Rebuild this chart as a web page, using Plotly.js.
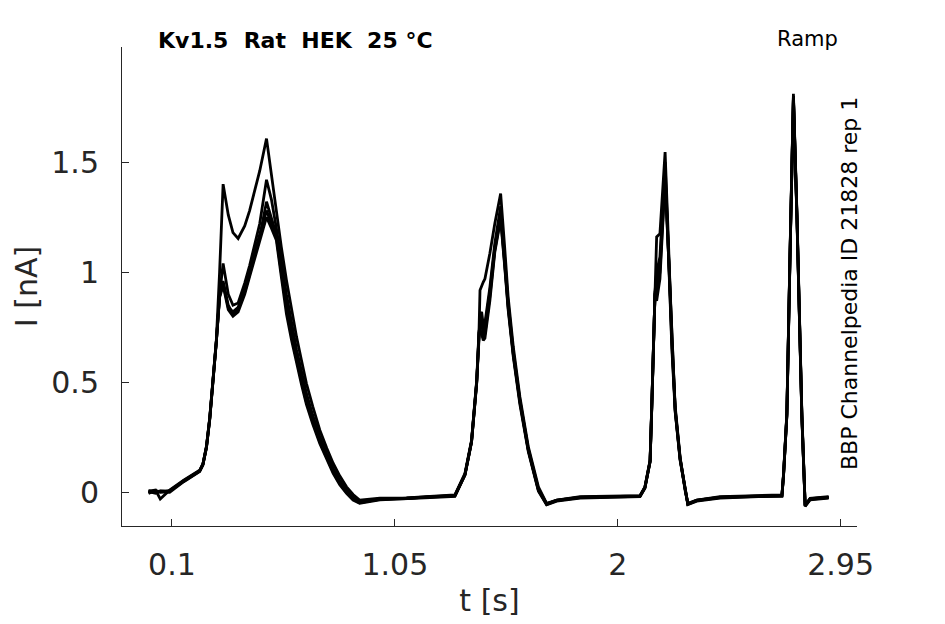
<!DOCTYPE html>
<html>
<head>
<meta charset="utf-8">
<script src="https://cdn.plot.ly/plotly-3.0.1.min.js"></script>
<style>html,body{margin:0;padding:0;background:#fff;}#plot{width:945px;height:624px;}</style>
</head>
<body>
<div id="plot"></div>
<script>
// time points [s]
var t = [0.000,0.030,0.050,0.090,0.150,0.200,0.218,0.232,0.247,0.261,
         0.275,0.289,0.303,0.318,0.340,0.360,0.382,0.410,0.431,0.455,
         0.474,0.503,0.524,0.545,0.566,0.588,0.610,0.631,0.652,0.673,
         0.700,0.730,0.760,0.787,0.815,0.844,0.872,0.900,0.986,1.100,
         1.200,
         1.306,1.349,1.377,1.399,1.409,1.413,1.420,1.427,1.434,1.455,
         1.476,1.501,1.518,1.533,1.555,1.583,1.619,1.662,1.697,1.740,
         1.840,1.950,
         2.095,2.116,2.138,2.145,2.152,2.159,2.166,2.180,2.202,2.216,
         2.231,2.245,2.266,2.288,2.299,2.337,2.436,2.600,
         2.700,2.707,2.721,2.735,2.749,2.764,2.785,2.799,2.820,2.899];

// current sweeps [nA]
var sweep1 = [0.005,0.010,-0.030,0.010,0.055,0.090,0.100,0.130,0.210,0.340,
              0.500,0.690,1.000,1.400,1.260,1.180,1.153,1.210,1.280,1.380,
              1.460,1.607,1.437,1.266,1.115,0.964,0.830,0.706,0.600,0.495,
              0.390,0.283,0.200,0.132,0.075,0.025,-0.010,-0.035,-0.027,-0.025,
              -0.018,
              -0.012,0.086,0.237,0.510,0.740,0.918,0.940,0.955,0.970,1.085,
              1.220,1.357,1.115,0.888,0.660,0.434,0.207,0.025,-0.050,-0.035,
              -0.020,-0.018,
              -0.015,0.025,0.147,0.390,0.690,0.918,1.160,1.175,1.546,1.145,
              0.690,0.390,0.160,0.010,-0.050,-0.035,-0.020,-0.015,
              -0.012,0.086,0.360,1.115,1.810,1.270,0.360,-0.058,-0.027,-0.020];
var sweep2 = [0.000,0.005,0.000,0.008,0.052,0.088,0.098,0.128,0.207,0.336,
              0.496,0.686,0.895,1.040,0.900,0.850,0.860,0.950,1.030,1.130,
              1.220,1.420,1.330,1.200,1.050,0.900,0.770,0.650,0.550,0.450,
              0.350,0.255,0.175,0.110,0.055,0.010,-0.020,-0.040,-0.030,-0.027,
              -0.020,
              -0.015,0.082,0.232,0.505,0.735,0.800,0.820,0.760,0.770,0.930,
              1.130,1.300,1.070,0.860,0.640,0.420,0.197,0.015,-0.052,-0.037,
              -0.022,-0.020,
              -0.017,0.022,0.142,0.385,0.685,0.910,1.000,1.070,1.500,1.120,
              0.670,0.380,0.155,0.005,-0.052,-0.037,-0.022,-0.017,
              -0.014,0.082,0.355,1.110,1.800,1.260,0.350,-0.060,-0.030,-0.022];
var sweep3 = [0.008,0.000,0.005,0.005,0.050,0.085,0.096,0.126,0.205,0.333,
              0.493,0.683,0.890,0.960,0.850,0.810,0.830,0.910,0.990,1.080,
              1.160,1.320,1.250,1.170,1.020,0.860,0.730,0.620,0.520,0.425,
              0.330,0.240,0.165,0.100,0.045,0.003,-0.028,-0.045,-0.032,-0.028,
              -0.022,
              -0.016,0.080,0.230,0.500,0.730,0.760,0.780,0.700,0.720,0.890,
              1.100,1.250,1.040,0.840,0.625,0.410,0.190,0.010,-0.055,-0.038,
              -0.024,-0.021,
              -0.018,0.020,0.140,0.380,0.680,0.905,0.900,1.000,1.440,1.100,
              0.660,0.370,0.150,0.000,-0.054,-0.038,-0.024,-0.018,
              -0.016,0.080,0.350,1.100,1.790,1.250,0.345,-0.062,-0.032,-0.024];
var sweep4 = [-0.005,0.008,0.002,0.000,0.048,0.083,0.094,0.124,0.202,0.330,
              0.490,0.680,0.885,0.940,0.830,0.800,0.820,0.900,0.980,1.070,
              1.140,1.250,1.200,1.145,0.980,0.810,0.690,0.585,0.490,0.400,
              0.310,0.222,0.150,0.086,0.035,-0.005,-0.035,-0.050,-0.034,-0.030,
              -0.024,
              -0.018,0.078,0.228,0.495,0.725,0.740,0.720,0.690,0.700,0.870,
              1.090,1.240,1.030,0.830,0.615,0.400,0.185,0.005,-0.057,-0.040,
              -0.026,-0.023,
              -0.020,0.018,0.138,0.375,0.675,0.900,0.870,0.970,1.420,1.090,
              0.650,0.365,0.145,-0.003,-0.056,-0.040,-0.026,-0.020,
              -0.018,0.078,0.345,1.095,1.790,1.245,0.340,-0.064,-0.034,-0.026];
var sweep5 = [0.003,-0.004,0.006,0.004,0.053,0.087,0.097,0.127,0.206,0.335,
              0.495,0.685,0.892,0.950,0.840,0.820,0.840,0.930,1.000,1.100,
              1.170,1.280,1.220,1.160,1.000,0.840,0.710,0.600,0.505,0.410,
              0.320,0.230,0.158,0.093,0.040,0.000,-0.030,-0.048,-0.031,-0.029,
              -0.021,
              -0.015,0.081,0.231,0.502,0.732,0.780,0.790,0.730,0.750,0.910,
              1.110,1.270,1.050,0.850,0.630,0.415,0.193,0.012,-0.053,-0.036,
              -0.023,-0.019,
              -0.016,0.023,0.141,0.383,0.683,0.908,0.950,1.030,1.460,1.110,
              0.665,0.375,0.152,0.002,-0.053,-0.036,-0.023,-0.016,
              -0.015,0.081,0.352,1.105,1.800,1.255,0.348,-0.061,-0.029,-0.023];

var sweeps = [sweep1, sweep2, sweep3, sweep4, sweep5];

var xTickVals = [0.1, 1.05, 2, 2.95];
var xTickText = ['0.1', '1.05', '2', '2.95'];
var yTickVals = [0, 0.5, 1, 1.5];
var yTickText = ['0', '0.5', '1', '1.5'];

var titleText = 'Kv1.5\u00a0\u00a0Rat\u00a0\u00a0HEK\u00a0\u00a025\u00a0\u00b0C';
var protocolText = 'Ramp';
var sourceText = 'BBP Channelpedia ID 21828 rep 1';

var traces = sweeps.map(function (s) {
  return {
    x: t, y: s, type: 'scatter', mode: 'lines',
    line: {color: '#000000', width: 2.8},
    hoverinfo: 'skip', showlegend: false
  };
});

var axisCommon = {
  showgrid: false, zeroline: false, showline: true,
  linecolor: '#262626', linewidth: 1,
  ticks: 'inside', ticklen: 7, tickwidth: 1, tickcolor: '#262626',
  tickfont: {family: 'DejaVu Sans', size: 30, color: '#262626'},
  tickmode: 'array'
};

var layout = {
  width: 945, height: 624,
  paper_bgcolor: '#ffffff', plot_bgcolor: '#ffffff',
  margin: {l: 122, r: 88, t: 47, b: 98, pad: 0},
  font: {family: 'DejaVu Sans', color: '#262626'},
  title: {
    text: titleText,
    font: {family: 'DejaVu Sans', size: 22, color: '#000000', weight: 'bold'},
    xref: 'paper', x: 0.049, xanchor: 'left',
    yref: 'container', y: 1 - 40 / 624, yanchor: 'middle'
  },
  xaxis: Object.assign({}, axisCommon, {
    range: [-0.113, 3.02],
    tickvals: xTickVals, ticktext: xTickText,
    ticklabelstandoff: 12,
    title: {text: 't [s]', font: {family: 'DejaVu Sans', size: 30, color: '#262626'}, standoff: 8}
  }),
  yaxis: Object.assign({}, axisCommon, {
    range: [-0.153, 2.023],
    tickvals: yTickVals, ticktext: yTickText,
    ticklabelstandoff: 16,
    title: {text: 'I [nA]', font: {family: 'DejaVu Sans', size: 30, color: '#262626'}, standoff: 4}
  }),
  annotations: [
    {text: protocolText, xref: 'paper', yref: 'paper', x: (807 - 122) / 735, y: (526 - 39) / 479,
     xanchor: 'center', yanchor: 'middle', showarrow: false,
     font: {family: 'DejaVu Sans', size: 21, color: '#000000'}},
    {text: sourceText, xref: 'paper', yref: 'paper', x: (849 - 122) / 735, y: (526 - 284) / 479,
     xanchor: 'center', yanchor: 'middle', showarrow: false, textangle: -90,
     font: {family: 'DejaVu Sans', size: 22, color: '#000000'}}
  ]
};

Plotly.newPlot('plot', traces, layout, {staticPlot: true, displayModeBar: false});
</script>
</body>
</html>
